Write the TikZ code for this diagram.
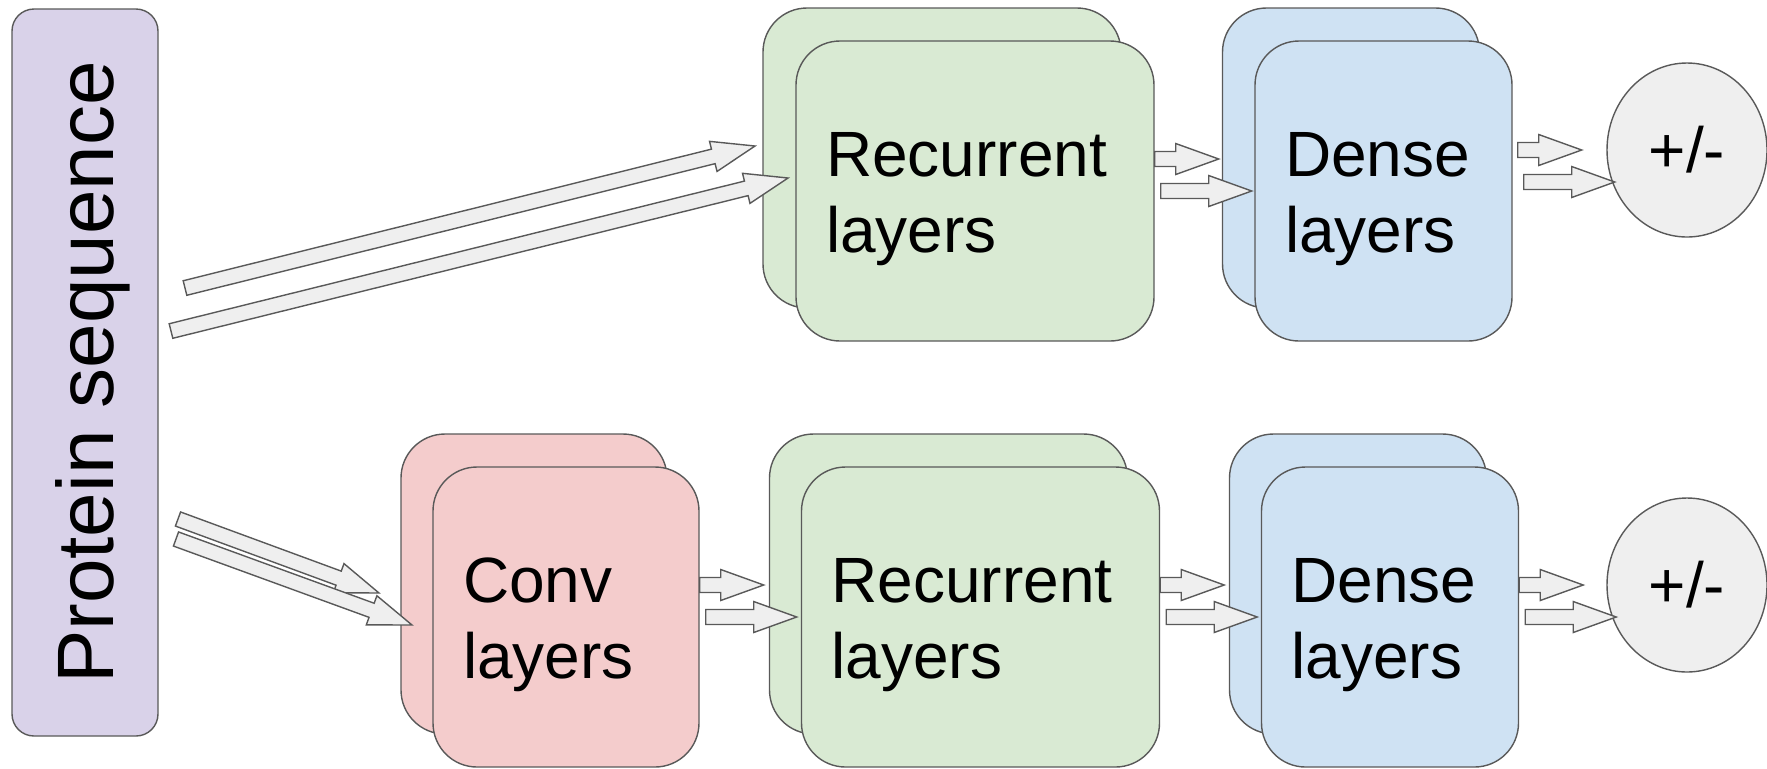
\documentclass[tikz,border=0pt]{standalone}
\usepackage{fontspec}
\setmainfont{Liberation Sans}
\usetikzlibrary{calc,shapes.geometric}
\definecolor{SeqPurple}{RGB}{217,210,233}
\definecolor{ConvPink}{RGB}{244,204,204}
\definecolor{RnnGreen}{RGB}{217,234,211}
\definecolor{DenseBlue}{RGB}{207,226,243}
\definecolor{PaleGrey}{RGB}{239,239,239}
\definecolor{EdgeGrey}{RGB}{89,89,89}
\newcommand{\boxfont}{\fontsize{32pt}{38pt}\selectfont}
\newcommand{\seqfont}{\fontsize{40pt}{48pt}\selectfont}
\newcommand{\lift}{\rule{0pt}{30pt}}

\begin{document}
\begin{tikzpicture}[
    x=0.5pt,y=-0.5pt,
    stackbox/.style={draw=EdgeGrey,line width=0.7pt,rounded corners=22pt,minimum height=150pt,
      inner xsep=15pt,align=left,font=\boxfont},
    rnnbox/.style={stackbox,fill=RnnGreen,text width=149pt},
    convbox/.style={stackbox,fill=ConvPink,text width=103pt},
    densebox/.style={stackbox,fill=DenseBlue,text width=98.5pt},
    scorebox/.style={ellipse,draw=EdgeGrey,line width=0.7pt,fill=PaleGrey,
      minimum width=80pt,minimum height=87pt,inner sep=0pt,font=\boxfont},
    fatarrow/.style={draw=EdgeGrey,line width=0.7pt,fill=PaleGrey,line join=miter,
      to path={let \p1=($(\tikztotarget)!21.5pt!(\tikztostart)$) in
        -- ($(\tikztostart)!3.75pt!90:(\tikztotarget)$)
        -- ($(\p1)!3.75pt!90:(\tikztotarget)$)
        -- ($(\p1)!7.75pt!90:(\tikztotarget)$)
        -- (\tikztotarget)
        -- ($(\p1)!7.75pt!-90:(\tikztotarget)$)
        -- ($(\p1)!3.75pt!-90:(\tikztotarget)$)
        -- ($(\tikztostart)!3.75pt!-90:(\tikztotarget)$)
        -- cycle}}
  ]
    \useasboundingbox (0,0) rectangle (1767,768);

    \node[draw=EdgeGrey,fill=SeqPurple,line width=0.7pt,rounded corners=11pt,rotate=90,
      minimum width=363.5pt,minimum height=73pt,text depth=0pt,font=\seqfont] (seq) at (85,372.5) {Protein sequence};

    % upper branch: recurrent -> dense
    \node[rnnbox] (rnnAbk) at (942,158) {};
    \node[rnnbox] (rnnA) at (975,191) {\lift Recurrent\\layers};
    \node[densebox] (denAbk) at (1351,158) {};
    \node[densebox] (denA) at (1383.5,191) {\lift Dense\\layers};
    \node[scorebox] (scA) at (1687,150) {+/-};

    % lower branch: conv -> recurrent -> dense
    \node[convbox] (convBbk) at (534,584) {};
    \node[convbox] (convB) at (566,617) {\lift Conv\\layers};
    \node[rnnbox] (rnnBbk) at (948.5,584) {};
    \node[rnnbox] (rnnB) at (980.5,617) {\lift Recurrent\\layers};
    \node[densebox] (denBbk) at (1358,584) {};
    \node[densebox] (denB) at (1390,617) {\lift Dense\\layers};
    \node[scorebox] (scB) at (1687,585) {+/-};

    \coordinate (s1) at (185,288);  \coordinate (r1) at (755,146);
    \coordinate (s2) at (171,331);  \coordinate (r2) at (788,178);
    \coordinate (s3) at (178,519);  \coordinate (c1) at (379,593);
    \coordinate (s4) at (176,539);  \coordinate (c2) at (412,625);
    \draw[fatarrow] (s1) to (r1);
    \draw[fatarrow] (s2) to (r2);
    \draw[fatarrow] (s3) to (c1);
    \draw[fatarrow] (s4) to (c2);

    \foreach \a/\dx/\dy in {rnnA/0/0,denA/5/-9,convB/0/0,rnnB/0/0,denB/0/0}{
      \coordinate (\a-o1) at ($(\a.east)+(\dx,\dy-32)$);
      \coordinate (\a-i1) at ($(\a.east)+(\dx+64,\dy-32)$);
      \coordinate (\a-o2) at ($(\a.east)+(\dx+6,\dy)$);
      \coordinate (\a-i2) at ($(\a.east)+(\dx+97,\dy)$);
      \draw[fatarrow] (\a-o1) to (\a-i1);
      \draw[fatarrow] (\a-o2) to (\a-i2);
    }
  \end{tikzpicture}
\end{document}
